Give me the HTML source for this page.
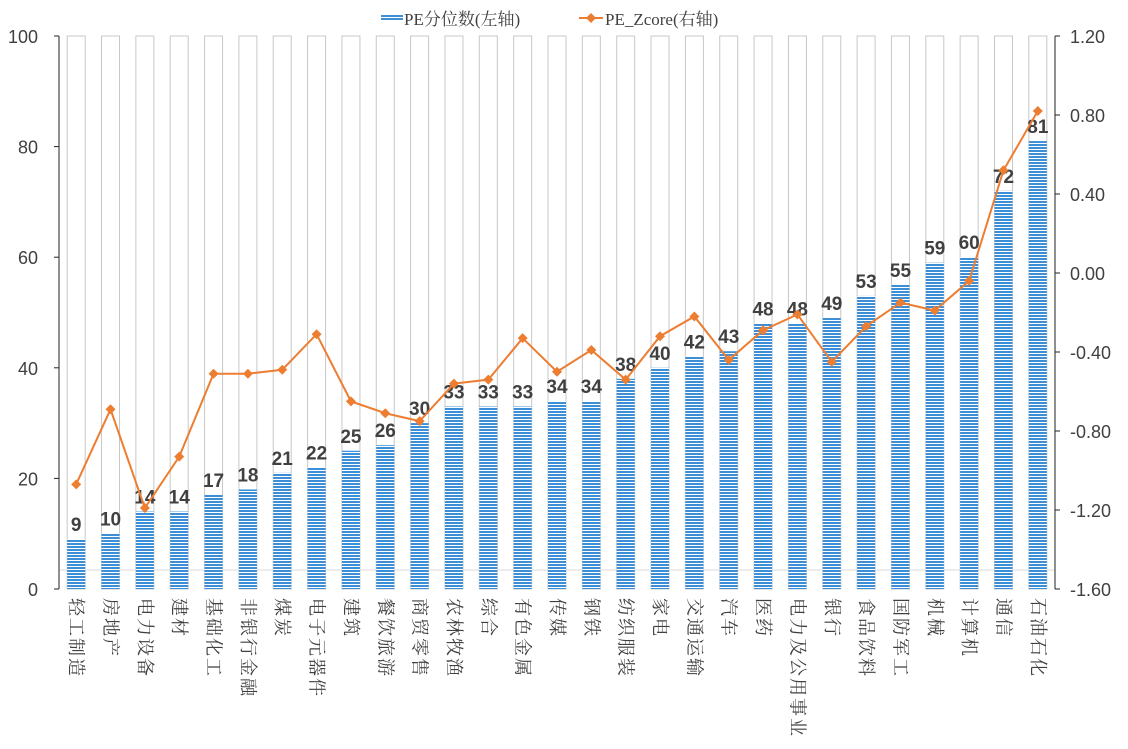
<!DOCTYPE html>
<html><head><meta charset="utf-8"><style>
body{margin:0;background:#fff;}
svg text{font-family:"Liberation Sans","Noto Sans CJK SC",sans-serif;}
svg text.cj{font-family:"Liberation Serif","Noto Serif CJK SC",serif;}
</style></head><body>
<svg id="c" width="1128" height="744" xmlns="http://www.w3.org/2000/svg"></svg>
<script>
const categories=["轻工制造","房地产","电力设备","建材","基础化工","非银行金融","煤炭","电子元器件","建筑","餐饮旅游","商贸零售","农林牧渔","综合","有色金属","传媒","钢铁","纺织服装","家电","交通运输","汽车","医药","电力及公用事业","银行","食品饮料","国防军工","机械","计算机","通信","石油石化"];
const peValues=[9,10,14,14,17,18,21,22,25,26,30,33,33,33,34,34,38,40,42,43,48,48,49,53,55,59,60,72,81];
const zValues=[-1.07,-0.69,-1.19,-0.93,-0.51,-0.51,-0.49,-0.31,-0.65,-0.71,-0.75,-0.56,-0.54,-0.33,-0.50,-0.39,-0.54,-0.32,-0.22,-0.44,-0.29,-0.21,-0.45,-0.27,-0.15,-0.19,-0.04,0.52,0.82];
const leftTicks=[0,20,40,60,80,100];
const rightTicks=[-1.6,-1.2,-0.8,-0.4,0,0.4,0.8,1.2];

const svg=document.getElementById('c');const NS='http://www.w3.org/2000/svg';
function mk(t,a,p){const e=document.createElementNS(NS,t);for(const k in a)e.setAttribute(k,a[k]);(p||svg).appendChild(e);return e;}
const X0=59,X1=1055,Y0=589,Y1=36;
const step=(X1-X0)/categories.length;
const xc=i=>X0+step*(i+0.5);
const yL=v=>Y0-(v/100)*(Y0-Y1);
const yR=v=>Y0-((v+1.6)/2.8)*(Y0-Y1);
const defs=mk('defs',{});
const pat=mk('pattern',{id:'st',width:4,height:3,patternUnits:'userSpaceOnUse'},defs);
mk('rect',{x:0,y:0,width:4,height:3,fill:'#fff'},pat);
mk('rect',{x:0,y:0,width:4,height:2,fill:'#3c8fd6'},pat);
const bw=18;
categories.forEach((c,i)=>{
  let r=mk('rect',{x:xc(i)-bw/2,y:Y1,width:bw,height:Y0-Y1,fill:'none',stroke:'#c8c8c8','stroke-width':1});
  
  
});
mk('line',{x1:X0,y1:570,x2:X1,y2:570,stroke:'#d9d9d9'});
categories.forEach((c,i)=>{
  let b=mk('rect',{x:xc(i)-bw/2,y:yL(peValues[i]),width:bw,height:Y0-yL(peValues[i]),fill:'url(#st)'});
  
  
  let t=mk('text',{x:xc(i),y:yL(peValues[i])-8,'text-anchor':'middle','font-size':19,'font-weight':'bold',fill:'#404040'});
  t.textContent=peValues[i];
  
  
  let l=mk('text',{class:'cj',transform:`translate(${xc(i)-6},598) rotate(90)`,'font-size':18,'letter-spacing':'2',fill:'#404040'});
  l.textContent=c;
  
  
});
mk('line',{x1:X0,y1:Y1,x2:X0,y2:Y0,stroke:'#222'});
leftTicks.forEach(v=>{
  mk('line',{x1:X0-5,y1:yL(v),x2:X0,y2:yL(v),stroke:'#222'});
  let t=mk('text',{x:38,y:yL(v)+7,'text-anchor':'end','font-size':18,fill:'#404040'});t.textContent=v;
  
  
});
mk('line',{x1:X1,y1:Y1,x2:X1,y2:Y0,stroke:'#222'});
rightTicks.forEach(v=>{
  mk('line',{x1:X1,y1:yR(v),x2:X1+5,y2:yR(v),stroke:'#222'});
  let t=mk('text',{x:1070,y:yR(v)+7,'font-size':18,fill:'#404040'});t.textContent=v.toFixed(2);
  
  
});
const pts=zValues.map((v,i)=>xc(i)+','+yR(v)).join(' ');
let pl=mk('polyline',{points:pts,fill:'none',stroke:'#ed7d31','stroke-width':2});


zValues.forEach((v,i)=>{
  let d=mk('path',{d:`M${xc(i)},${yR(v)-5}l5,5l-5,5l-5,-5z`,fill:'#ed7d31'});
  
  
});
const lg=mk('g',{});


mk('rect',{x:381,y:14,width:22,height:6,fill:'url(#st)'},lg);
let t1=mk('text',{class:'cj',x:404,y:25,'font-size':17,fill:'#404040'},lg);t1.textContent='PE分位数(左轴)';
mk('line',{x1:579,y1:18,x2:603,y2:18,stroke:'#ed7d31','stroke-width':2},lg);
mk('path',{d:'M591,13l5,5l-5,5l-5,-5z',fill:'#ed7d31'},lg);
let t2=mk('text',{class:'cj',x:605,y:25,'font-size':17,fill:'#404040'},lg);t2.textContent='PE_Zcore(右轴)';
</script>
</body></html>
